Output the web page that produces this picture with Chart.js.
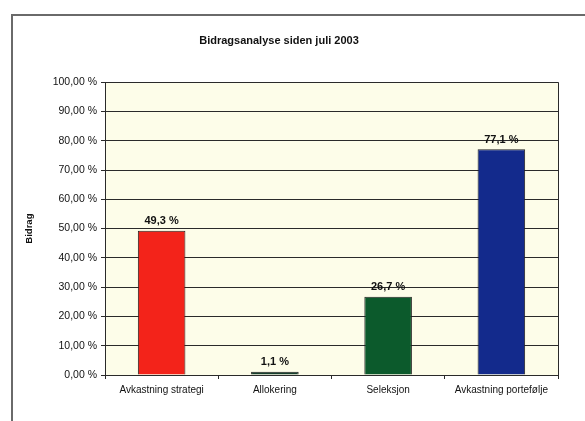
<!DOCTYPE html>
<html>
<head>
<meta charset="utf-8">
<script src="https://cdn.jsdelivr.net/npm/chart.js@4"></script>
<style>
  html, body { margin: 0; padding: 0; background: #fff; }
  #wrap { position: relative; width: 585px; height: 421px; }
  #frame { position: absolute; left: 11px; top: 14px; width: 580px; height: 420px;
           border-left: 2px solid #6a6a6a; border-top: 2px solid #6a6a6a; }
  canvas { position: absolute; left: 0; top: 0; }
</style>
</head>
<body>
<div id="wrap">
  <div id="frame"></div>
  <canvas id="chart" width="585" height="421"></canvas>
</div>
<script>
const categories = ['Avkastning strategi', 'Allokering', 'Seleksjon', 'Avkastning portefølje'];
const values = [49.3, 1.1, 26.7, 77.1];
const barColors = ['#f3231a', '#163f2c', '#0c5a2c', '#132a8c'];

const fmt = (v, d) => v.toFixed(d).replace('.', ',') + ' %';

// plot area background + right border
const plotArea = {
  id: 'plotArea',
  beforeDraw(chart) {
    const { ctx, chartArea: a } = chart;
    ctx.save();
    ctx.fillStyle = '#fdfde9';
    ctx.fillRect(a.left, a.top, a.right - a.left, a.bottom - a.top);
    ctx.restore();
  },
  afterDraw(chart) {
    const { ctx, chartArea: a } = chart;
    ctx.save();
    ctx.strokeStyle = '#2a2a2a';
    ctx.lineWidth = 1;
    ctx.beginPath();
    ctx.moveTo(Math.round(a.right) + 0.5, a.top);
    ctx.lineTo(Math.round(a.right) + 0.5, a.bottom);
    ctx.stroke();
    ctx.restore();
  }
};

// value labels above bars
const valueLabels = {
  id: 'valueLabels',
  afterDatasetsDraw(chart) {
    const { ctx } = chart;
    const meta = chart.getDatasetMeta(0);
    ctx.save();
    ctx.font = 'bold 11px "Liberation Sans", Arial, sans-serif';
    ctx.fillStyle = '#111';
    ctx.textAlign = 'center';
    ctx.textBaseline = 'bottom';
    meta.data.forEach((bar, i) => {
      ctx.fillText(fmt(values[i], 1), bar.x, bar.y - 4);
    });
    ctx.restore();
  }
};

new Chart(document.getElementById('chart'), {
  type: 'bar',
  data: {
    labels: categories,
    datasets: [{
      data: values,
      backgroundColor: barColors,
      borderColor: '#222',
      borderWidth: 1,
      categoryPercentage: 1,
      barPercentage: 0.42
    }]
  },
  options: {
    responsive: false,
    animation: false,
    layout: { padding: { left: 0, right: 27, top: 0, bottom: 0 } },
    plugins: {
      legend: { display: false },
      tooltip: { enabled: false },
      title: {
        display: true,
        text: 'Bidragsanalyse siden juli 2003',
        color: '#111',
        font: { family: '"Liberation Sans", Arial, sans-serif', size: 11, weight: 'bold' },
        padding: { top: 34, bottom: 35 }
      }
    },
    scales: {
      x: {
        grid: { offset: true, drawOnChartArea: false, tickLength: 4, color: '#2a2a2a' },
        border: { color: '#2a2a2a' },
        ticks: {
          color: '#111', padding: 5, maxRotation: 0,
          font: { family: '"Liberation Sans", Arial, sans-serif', size: 10 }
        },
        afterFit(scale) { scale.height = 46; }
      },
      y: {
        min: 0, max: 100,
        ticks: {
          stepSize: 10, color: '#111', padding: 4,
          font: { family: '"Liberation Sans", Arial, sans-serif', size: 10.5 },
          callback: v => fmt(v, 2)
        },
        grid: { color: '#2a2a2a', tickLength: 4 },
        border: { color: '#2a2a2a' },
        title: {
          display: true, text: 'Bidrag', color: '#111',
          font: { family: '"Liberation Sans", Arial, sans-serif', size: 9.5, weight: 'bold' },
          padding: { top: 24, bottom: 0 }
        },
        afterFit(scale) { scale.width = 105; }
      }
    }
  },
  plugins: [plotArea, valueLabels]
});
</script>
</body>
</html>
